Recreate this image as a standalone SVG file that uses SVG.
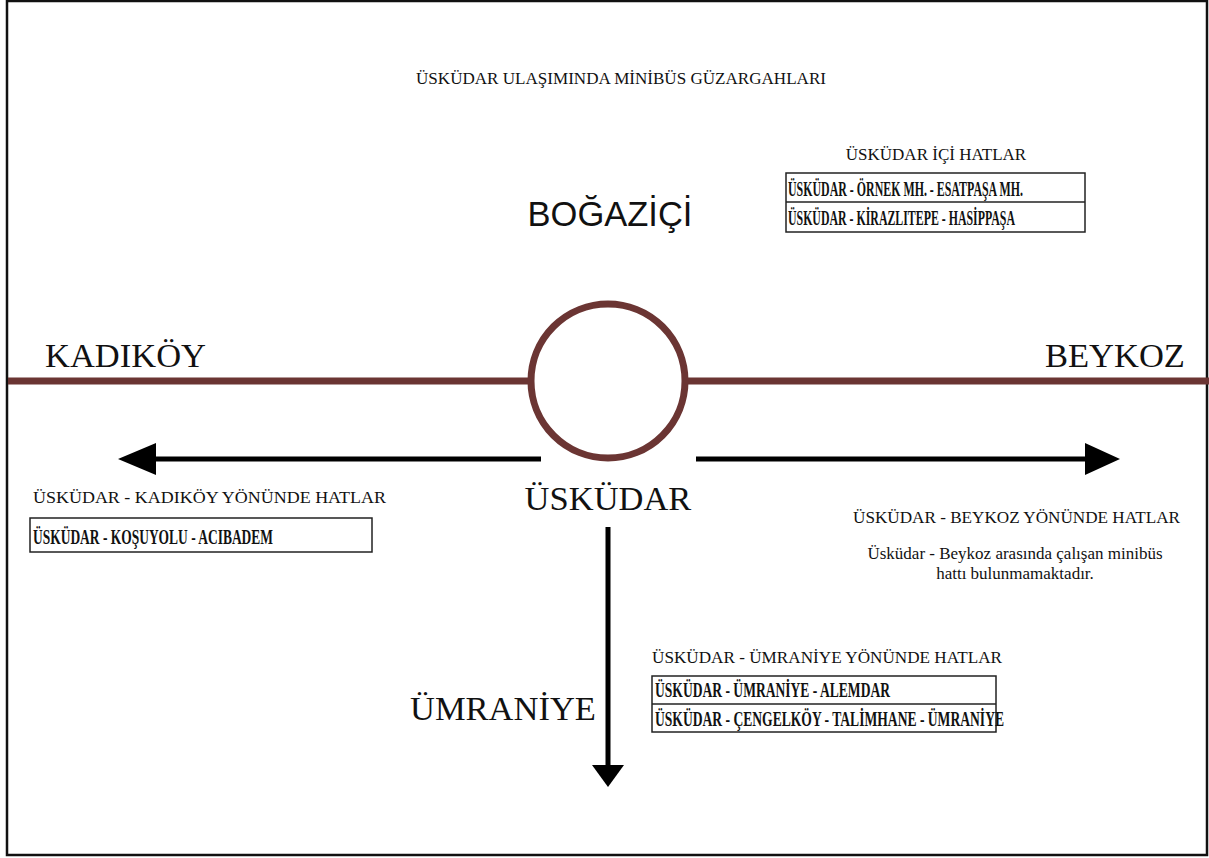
<svg xmlns="http://www.w3.org/2000/svg" width="1209" height="858" viewBox="0 0 1209 858">
<defs>
<style>
.s{font-family:"Liberation Serif","Times New Roman",serif;fill:#111}
.t16{font-size:17px}
.big{font-size:34.5px}
.b{font-family:"Liberation Serif","Times New Roman",serif;font-weight:bold;font-size:22px;fill:#111}
.box{fill:none;stroke:#222;stroke-width:1.5}
.rail{stroke:#6b3533;stroke-width:7;fill:none}
.arr{stroke:#000;stroke-width:5;fill:none}
</style>
</defs>
<rect x="0" y="0" width="1209" height="858" fill="#fff"/>
<rect x="7" y="1" width="1200" height="854" fill="none" stroke="#111" stroke-width="2.5"/>
<g id="connectors">
<line class="rail" x1="8" y1="381" x2="530" y2="381"/>
<line class="rail" x1="687" y1="381" x2="1209" y2="381"/>
<line class="arr" x1="150" y1="459" x2="541" y2="459"/>
<polygon points="118,459 156,443 156,475" fill="#000"/>
<line class="arr" x1="696" y1="459" x2="1088" y2="459"/>
<polygon points="1120,459 1085,443 1085,475" fill="#000"/>
<line class="arr" x1="608" y1="527" x2="608" y2="768"/>
<polygon points="608,787 592,765 624,765" fill="#000"/>
</g>
<g id="title"><text class="s t16" x="621" y="84" text-anchor="middle" textLength="410" lengthAdjust="spacingAndGlyphs">ÜSKÜDAR ULAŞIMINDA MİNİBÜS GÜZARGAHLARI</text></g>
<g id="uskudar">
<circle cx="608" cy="381" r="77" fill="#fff" stroke="#6b3533" stroke-width="7"/>
<text class="s big" x="608" y="510" text-anchor="middle">ÜSKÜDAR</text>
</g>
<g id="bogazici"><text x="610" y="226" text-anchor="middle" font-family="Liberation Sans, Arial, sans-serif" font-size="34.5" fill="#111">BOĞAZİÇİ</text></g>
<g id="kadikoy"><text class="s big" x="45" y="367">KADIKÖY</text></g>
<g id="beykoz"><text class="s big" x="1045" y="367">BEYKOZ</text></g>
<g id="umraniye"><text class="s big" x="410" y="720">ÜMRANİYE</text></g>
<g id="ic-hatlar">
<text class="s t16" x="936" y="160" text-anchor="middle">ÜSKÜDAR İÇİ HATLAR</text>
<rect class="box" x="786" y="173" width="299" height="59"/>
<line x1="786" y1="202" x2="1085" y2="202" stroke="#222" stroke-width="1.5"/>
<text class="b" x="788" y="196" textLength="235" lengthAdjust="spacingAndGlyphs">ÜSKÜDAR - ÖRNEK MH. - ESATPAŞA MH.</text>
<text class="b" x="788" y="225" textLength="227" lengthAdjust="spacingAndGlyphs">ÜSKÜDAR - KİRAZLITEPE - HASİPPAŞA</text>
</g>
<g id="kadikoy-hatlar">
<text class="s t16" x="33" y="503" textLength="353" lengthAdjust="spacingAndGlyphs">ÜSKÜDAR - KADIKÖY YÖNÜNDE HATLAR</text>
<rect class="box" x="30" y="518" width="342" height="34"/>
<text class="b" x="33" y="544" textLength="240" lengthAdjust="spacingAndGlyphs">ÜSKÜDAR - KOŞUYOLU - ACIBADEM</text>
</g>
<g id="beykoz-hatlar">
<text class="s t16" x="853" y="523" textLength="327" lengthAdjust="spacingAndGlyphs">ÜSKÜDAR - BEYKOZ YÖNÜNDE HATLAR</text>
<text class="s" font-size="17" x="1015" y="559" text-anchor="middle">Üsküdar - Beykoz arasında çalışan minibüs</text>
<text class="s" font-size="17" x="1015" y="579" text-anchor="middle">hattı bulunmamaktadır.</text>
</g>
<g id="umraniye-hatlar">
<text class="s t16" x="652" y="663" textLength="350" lengthAdjust="spacingAndGlyphs">ÜSKÜDAR - ÜMRANİYE YÖNÜNDE HATLAR</text>
<rect class="box" x="652" y="676" width="344" height="56"/>
<line x1="652" y1="704" x2="996" y2="704" stroke="#222" stroke-width="1.5"/>
<text class="b" x="655" y="697" textLength="235" lengthAdjust="spacingAndGlyphs">ÜSKÜDAR - ÜMRANİYE - ALEMDAR</text>
<text class="b" x="655" y="726" textLength="349" lengthAdjust="spacingAndGlyphs">ÜSKÜDAR - ÇENGELKÖY - TALİMHANE - ÜMRANİYE</text>
</g>
</svg>
